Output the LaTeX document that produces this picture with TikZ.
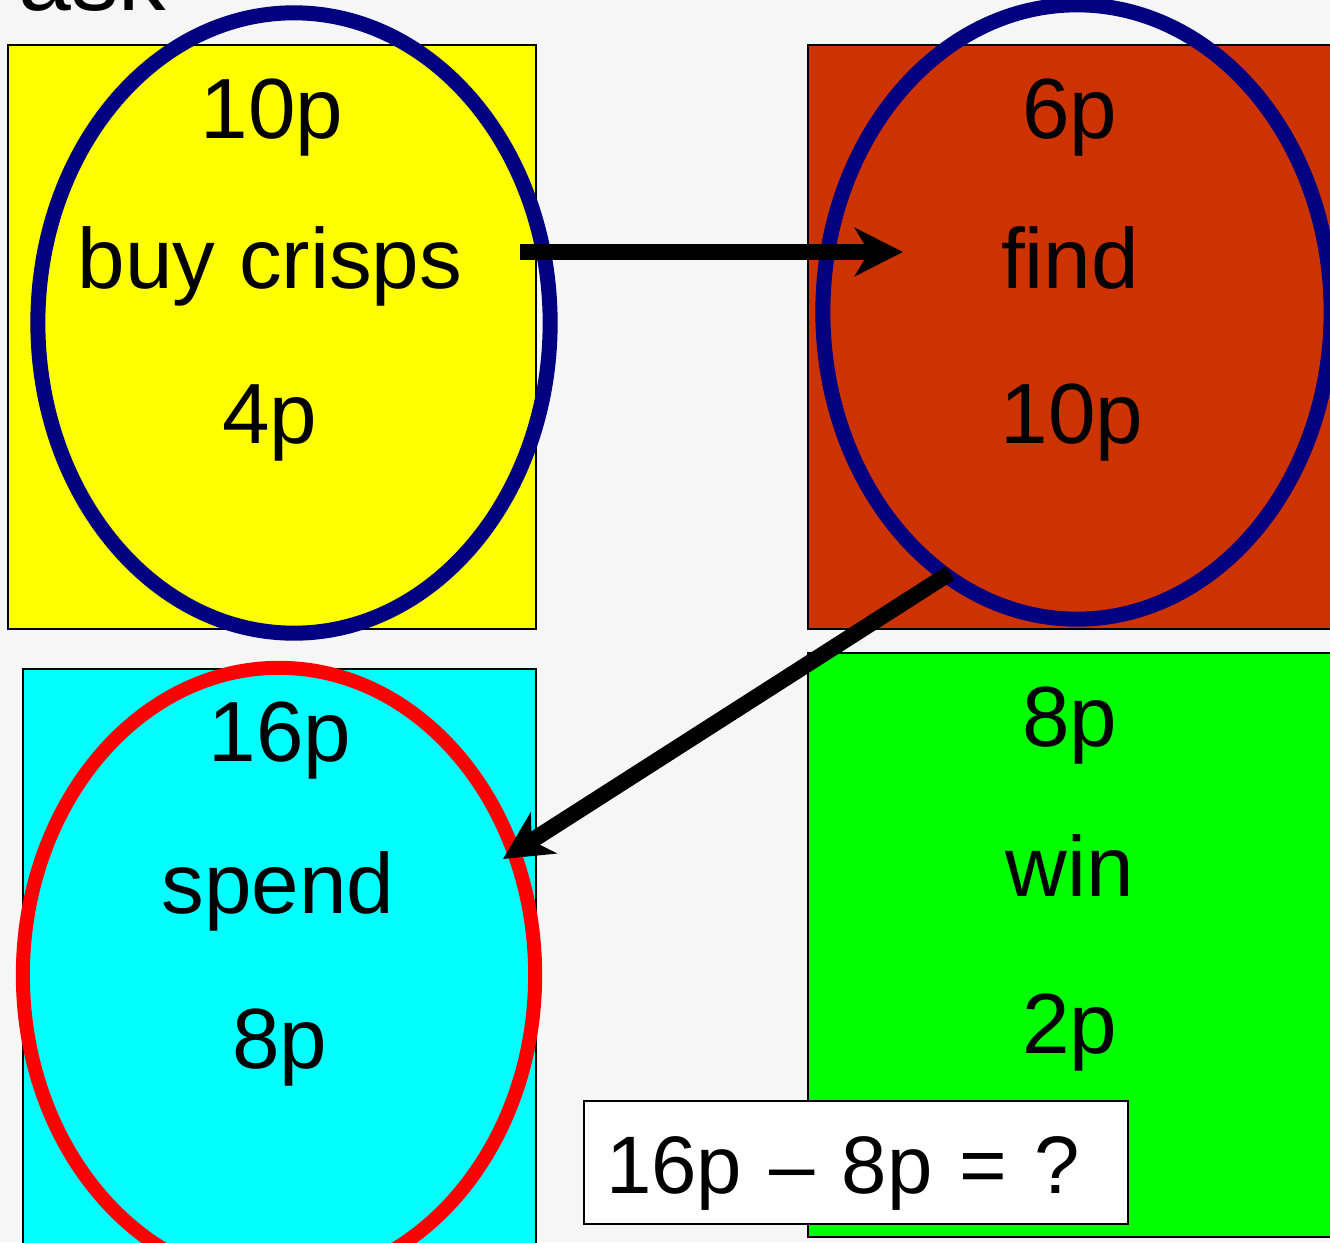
\documentclass[tikz,border=0pt]{standalone}
\usepackage{fontspec}
\setmainfont{Liberation Sans}
\usetikzlibrary{positioning,arrows.meta,shapes.geometric}
\definecolor{bggray}{RGB}{246,246,246}
\definecolor{crispyel}{RGB}{255,255,0}
\definecolor{findred}{RGB}{204,51,0}
\definecolor{spendcyan}{RGB}{0,255,255}
\definecolor{wingreen}{RGB}{0,255,0}
\definecolor{ringnavy}{RGB}{0,0,128}
\definecolor{ringred}{RGB}{255,0,0}
\tikzset{
  card/.style ={rectangle, draw=black, line width=0.6pt, inner sep=0pt, anchor=north west},
  ring/.style ={ellipse, draw=ringnavy, line width=1.5mm, inner sep=0pt,
                minimum width=5.12cm, minimum height=6.2cm},
  word/.style ={font=\fontsize{24.3}{29}\selectfont, inner sep=0pt, anchor=base},
  sum/.style  ={rectangle, draw=black, line width=0.6pt, fill=white, anchor=north west,
                text width=5.0cm, inner xsep=0.22cm, inner ysep=0pt,
                text height=0.92cm, text depth=0.31cm,
                align=left, font=\fontsize{23.2}{28}\selectfont},
  jump/.style ={-{Stealth[length=4.8mm, width=4.8mm, inset=1.4mm]}, line width=1.6mm, draw=black},
}

\begin{document}
\begin{tikzpicture}[x=0.01cm, y=-0.01cm]
\useasboundingbox (0,0) rectangle (1330,1242);
\clip (0,0) rectangle (1330,1242);
\fill[bggray] (0,0) rectangle (1330,1242);
\node[anchor=base west, inner sep=0pt, font=\fontsize{27}{30}\selectfont] (title) at (18,10) {ask};
% the four cards
\node[card, fill=crispyel, minimum width=5.28cm, minimum height=5.84cm] (crisps) at (7,44) {};
\node[card, fill=findred, minimum width=6cm, minimum height=5.84cm] (find) at (807,44) {};
\node[card, fill=spendcyan, minimum width=5.13cm, minimum height=7cm] (spend) at (22,668) {};
\node[card, fill=wingreen, minimum width=6cm, minimum height=5.84cm] (win) at (807,652) {};
% rings
\node[ring] (ringA) at (294,323) {};
\node[ring, minimum width=5.08cm, minimum height=6.14cm] (ringB) at (1077,312) {};
\node[ring, draw=ringred, line width=1.4mm, minimum height=6.14cm] (ringC) at (279,975) {};
% texts
\node[word] (a1) at (272,138) {10p};
\node[word] (a2) at (270,288) {buy crisps};
\node[word] (a3) at (270,443) {4p};
\node[word] (b1) at (1070,138) {6p};
\node[word] (b2) at (1070,288) {find};
\node[word] (b3) at (1072,443) {10p};
\node[word] (c1) at (280,761) {16p};
\node[word] (c2) at (278,913) {spend};
\node[word] (c3) at (280,1068) {8p};
\node[word] (d1) at (1070,746) {8p};
\node[word] (d2) at (1070,896) {win};
\node[word] (d3) at (1070,1053) {2p};
\node[sum] (eq) at (583,1100) {16p – 8p = ?};
% arrows
\coordinate (h0) at (520,252);
\coordinate (h1) at (903,252);
\coordinate (g0) at (950,573);
\coordinate (g1) at (503,859);
\draw[jump] (h0) -- (h1);
\draw[jump] (g0) -- (g1);
\end{tikzpicture}
\end{document}
